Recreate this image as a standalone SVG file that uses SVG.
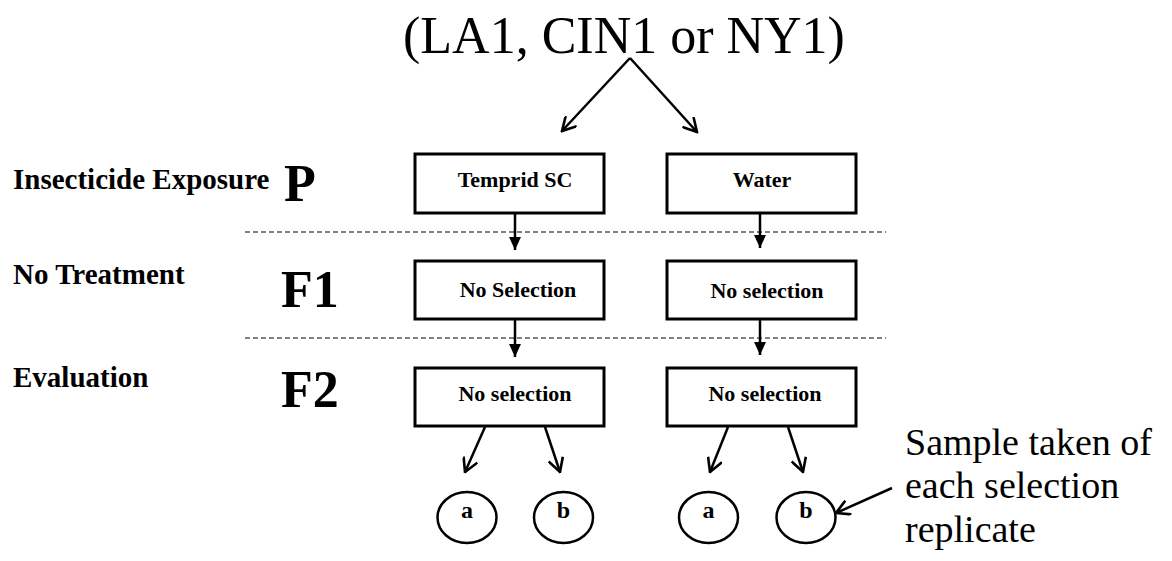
<svg xmlns="http://www.w3.org/2000/svg" width="1172" height="561" viewBox="0 0 1172 561">
<style>
.bg{fill:#fff}
.box{fill:#fff;stroke:#000;stroke-width:3}
.circ{fill:#fff;stroke:#000;stroke-width:2.5}
text{font-family:'Liberation Serif','DejaVu Serif',serif;fill:#000}
.lbl{font-size:29px;font-weight:bold}
.gen{font-size:52px;font-weight:bold}
.bt{font-size:22px;font-weight:bold;text-anchor:middle}
.ct{font-size:24px;font-weight:bold;text-anchor:middle}
.title{font-size:52px}
.note{font-size:38px}
.dash{stroke:#555;stroke-width:1.5;stroke-dasharray:5 3;fill:none}
.conn{stroke:#000;stroke-width:2.5;fill:none}
</style>
<defs>
<marker id="open" viewBox="0 0 16 16" refX="14.5" refY="8" markerWidth="16" markerHeight="16" markerUnits="userSpaceOnUse" orient="auto">
<path d="M1,0.5 L14.5,8 L1,15.5" fill="none" stroke="#000" stroke-width="2.6"/>
</marker>
<marker id="tri" viewBox="0 0 12 12" refX="12" refY="6" markerWidth="13" markerHeight="13" markerUnits="userSpaceOnUse" orient="auto">
<path d="M0,0.5 L12,6 L0,11.5 z" fill="#000"/>
</marker>
</defs>
<rect class="bg" width="1172" height="561"/>

<text class="title" x="403" y="53">(LA1, CIN1 or NY1)</text>

<g id="labels">
<text class="lbl" x="13" y="189">Insecticide Exposure</text>
<text class="lbl" x="13" y="284">No Treatment</text>
<text class="lbl" x="13" y="387">Evaluation</text>
<text class="gen" x="284" y="201">P</text>
<text class="gen" x="281" y="307">F1</text>
<text class="gen" x="281" y="407">F2</text>
</g>

<g id="separators">
<line class="dash" x1="245" y1="232" x2="886" y2="232"/>
<line class="dash" x1="245" y1="338" x2="886" y2="338"/>
</g>

<g id="node-temprid">
<rect class="box" x="415" y="154" width="189" height="59"/>
<text class="bt" x="515" y="187">Temprid SC</text>
</g>
<g id="node-water">
<rect class="box" x="667" y="154" width="189" height="59"/>
<text class="bt" x="762" y="187">Water</text>
</g>
<g id="node-f1-left">
<rect class="box" x="415" y="261" width="189" height="58"/>
<text class="bt" x="518" y="297">No Selection</text>
</g>
<g id="node-f1-right">
<rect class="box" x="667" y="261" width="189" height="58"/>
<text class="bt" x="767" y="298">No selection</text>
</g>
<g id="node-f2-left">
<rect class="box" x="415" y="368" width="189" height="58"/>
<text class="bt" x="515" y="401">No selection</text>
</g>
<g id="node-f2-right">
<rect class="box" x="667" y="368" width="189" height="58"/>
<text class="bt" x="765" y="401">No selection</text>
</g>

<g id="node-a-left">
<ellipse class="circ" cx="467" cy="517.5" rx="29.5" ry="25.5"/>
<text class="ct" x="467" y="518">a</text>
</g>
<g id="node-b-left">
<ellipse class="circ" cx="563.5" cy="517.5" rx="29.5" ry="25.5"/>
<text class="ct" x="563.5" y="518">b</text>
</g>
<g id="node-a-right">
<ellipse class="circ" cx="708.5" cy="517.5" rx="29.5" ry="25.5"/>
<text class="ct" x="708.5" y="518">a</text>
</g>
<g id="node-b-right">
<ellipse class="circ" cx="806" cy="517.5" rx="29.5" ry="25.5"/>
<text class="ct" x="806" y="518">b</text>
</g>

<g id="note">
<text class="note" x="905" y="455">Sample taken of</text>
<text class="note" x="905" y="498">each selection</text>
<text class="note" x="905" y="542">replicate</text>
</g>

<g id="connectors">
<path class="conn" d="M630,58 L562,131" marker-end="url(#open)"/>
<path class="conn" d="M630,58 L697,132" marker-end="url(#open)"/>
<path class="conn" d="M515,213 L515,250" marker-end="url(#tri)"/>
<path class="conn" d="M760,213 L760,248" marker-end="url(#tri)"/>
<path class="conn" d="M515,319 L515,357" marker-end="url(#tri)"/>
<path class="conn" d="M760,319 L760,355" marker-end="url(#tri)"/>
<path class="conn" d="M485,427 L465,472" marker-end="url(#open)"/>
<path class="conn" d="M545,427 L560,472" marker-end="url(#open)"/>
<path class="conn" d="M728,427 L710,472" marker-end="url(#open)"/>
<path class="conn" d="M788,427 L803,472" marker-end="url(#open)"/>
<path class="conn" d="M892,488 L836,513" marker-end="url(#open)"/>
</g>
</svg>
